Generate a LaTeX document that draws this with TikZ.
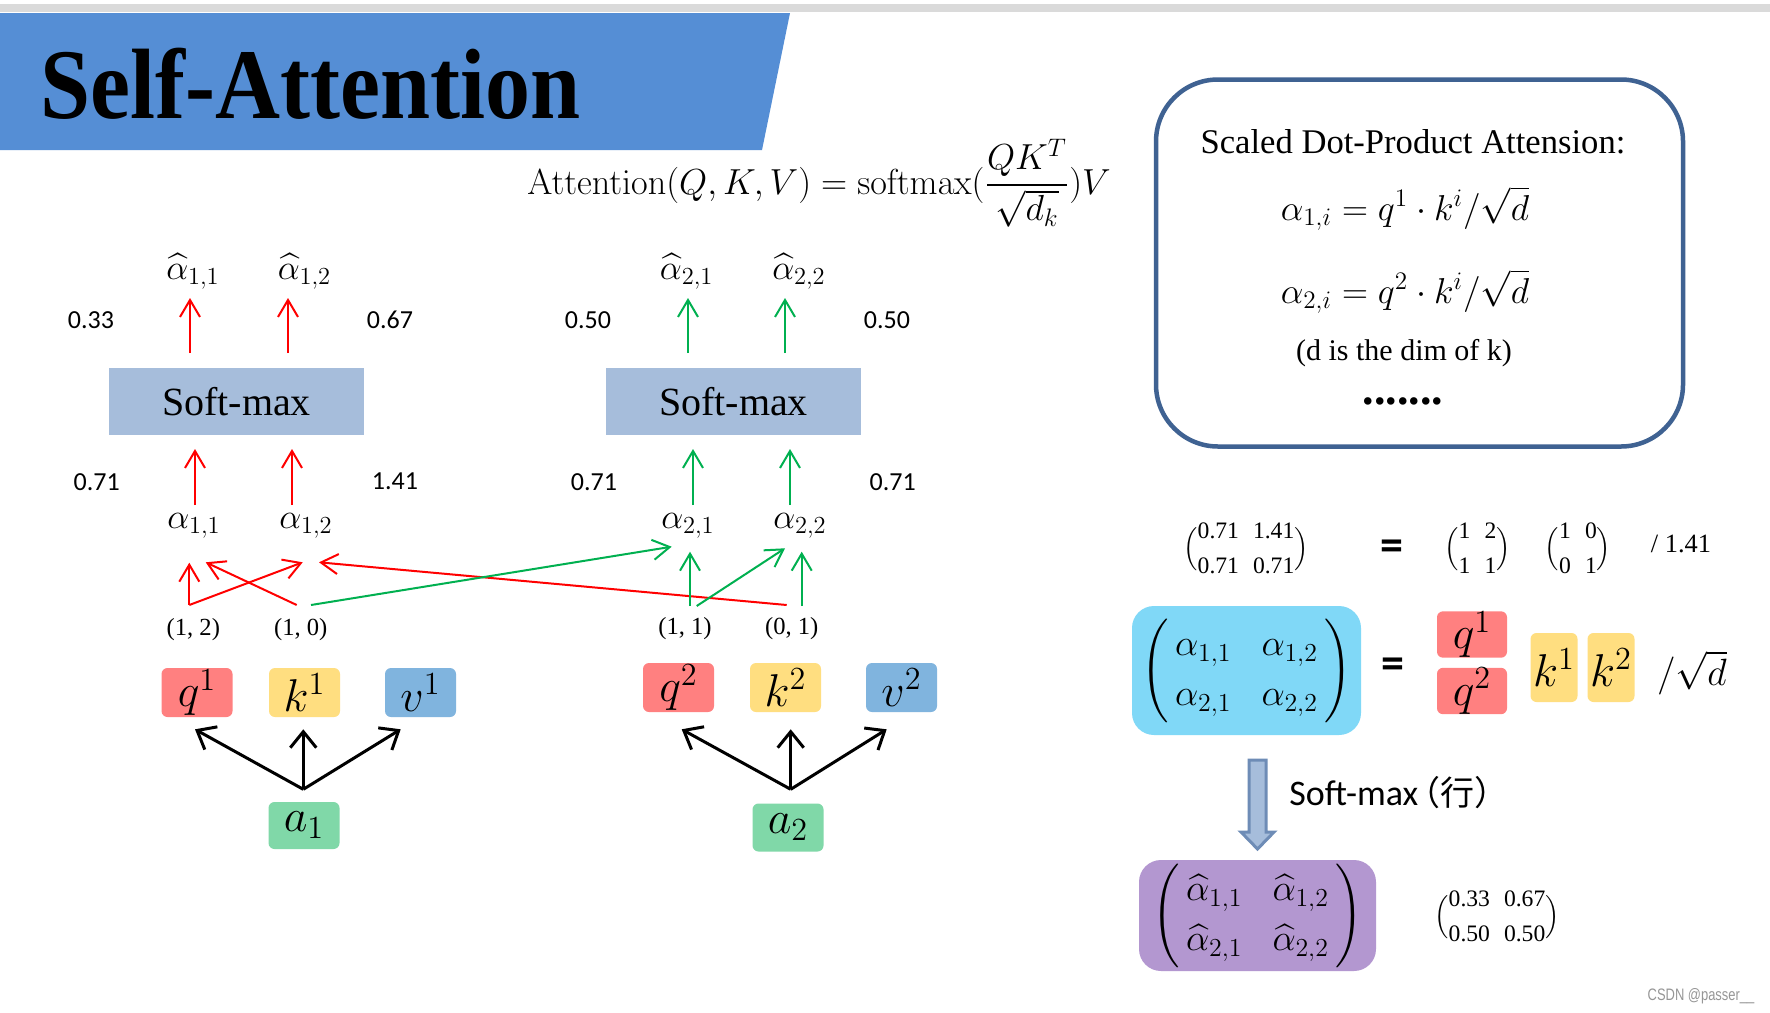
\RequirePackage{fix-cm}
\documentclass[tikz,border=0pt]{standalone}
\usepackage{amsmath}
\usepackage[no-math]{fontspec}
\setmainfont{Liberation Serif}
\newfontfamily\calibri{Carlito}
\newfontfamily\cjkfont{Noto Sans CJK SC}
\newfontfamily\arialfont{Liberation Sans}
\usetikzlibrary{arrows.meta}
\definecolor{bannerblue}{RGB}{85,142,213}
\definecolor{topgray}{RGB}{218,218,218}
\definecolor{smfill}{RGB}{166,189,219}
\definecolor{qfill}{RGB}{255,128,128}
\definecolor{kfill}{RGB}{255,222,128}
\definecolor{vfill}{RGB}{128,180,222}
\definecolor{afill}{RGB}{128,216,168}
\definecolor{arrgreen}{RGB}{0,176,80}
\definecolor{frameblue}{RGB}{63,98,146}
\definecolor{skyfill}{RGB}{128,216,247}
\definecolor{purpfill}{RGB}{179,151,208}
\definecolor{bigarrowdraw}{RGB}{110,140,182}
\definecolor{wmgray}{RGB}{150,150,150}
\begin{document}
\begin{tikzpicture}[x=0.5pt,y=-0.5pt,
  redarr/.style={draw=red, line width=1pt, -{Straight Barb[length=8.5pt,width=10pt]}},
  greenarr/.style={draw=arrgreen, line width=1pt, -{Straight Barb[length=8.5pt,width=10pt]}},
  blackarr/.style={draw=black, line width=1.5pt, -{Straight Barb[length=8pt,width=13pt]}},
  smbox/.style={fill=smfill, minimum width=127.5pt, minimum height=33.5pt, inner sep=0pt, font=\fontsize{20}{24}\selectfont},
  vecbox/.style={rounded corners=3pt, minimum width=35.5pt, minimum height=24.5pt, inner sep=0pt, font=\fontsize{23}{27}\selectfont},
  numlbl/.style={inner sep=0pt, font=\calibri\fontsize{13}{15}\selectfont},
  alab/.style={inner sep=0pt, anchor=base, font=\fontsize{17.5}{20}\selectfont},
  pairlbl/.style={inner sep=0pt, font=\fontsize{12.3}{15}\selectfont},
  nummat/.style={inner sep=0pt, font=\fontsize{11.8}{17.5}\selectfont},
  eqsign/.style={inner sep=0pt, font=\calibri\bfseries\fontsize{23}{27}\selectfont},
  bigmat/.style={inner sep=0pt, rounded corners=11pt, font=\fontsize{18.5}{25}\selectfont},
]
\useasboundingbox (0,0) rectangle (1770,1012);
\fill[white] (0,0) rectangle (1770,1012);
\fill[topgray] (0,4) rectangle (1770,12);
\fill[bannerblue] (0,13) -- (790,13) -- (762,150) -- (0,150) -- cycle;
\node[anchor=base west, inner sep=0pt] (title) at (40,118) {\scalebox{0.9}[1]{\fontsize{50}{60}\selectfont\bfseries Self-Attention}};

% formula
\node[anchor=base west, inner sep=0pt] (attn) at (527,194) {\fontsize{18.1}{21}\selectfont $\mathrm{Attention}(Q,K,V)=\mathrm{softmax}(\dfrac{QK^T}{\sqrt{d_k}})V$};

% right frame
\node[draw=frameblue, line width=2.25pt, rounded corners=31pt, minimum width=263.5pt, minimum height=183.5pt, inner sep=0pt] (sdp) at (1419.5,263) {};
\node[anchor=base, inner sep=0pt, font=\fontsize{17.3}{20}\selectfont] (sdptitle) at (1413,153) {Scaled Dot-Product Attension:};
\node[anchor=base, inner sep=0pt, font=\fontsize{18}{20}\selectfont] (eqa) at (1405,220) {$\alpha_{1,i}=q^1\cdot k^i/\sqrt{d}$};
\node[anchor=base, inner sep=0pt, font=\fontsize{18}{20}\selectfont] (eqb) at (1405,303) {$\alpha_{2,i}=q^2\cdot k^i/\sqrt{d}$};
\node[anchor=base, inner sep=0pt, font=\fontsize{15}{18}\selectfont] (note) at (1404,360) {(d is the dim of k)};
\node[anchor=base, inner sep=0pt, font=\bfseries\fontsize{23}{28}\selectfont] (dots) at (1403,404) {.......};

% softmax boxes
\node[smbox] (sm1) at (236.5,401.5) {Soft-max};
\node[smbox] (sm2) at (733.5,401.5) {Soft-max};

% alpha labels
\node[alab] (ah11) at (193,279) {$\widehat{\alpha}_{1,1}$};
\node[alab] (ah12) at (304.5,279) {$\widehat{\alpha}_{1,2}$};
\node[alab] (ah21) at (686.7,279) {$\widehat{\alpha}_{2,1}$};
\node[alab] (ah22) at (799,279) {$\widehat{\alpha}_{2,2}$};
\node[alab] (a11) at (194,528) {$\alpha_{1,1}$};
\node[alab] (a12) at (306,528) {$\alpha_{1,2}$};
\node[alab] (a21) at (688,528) {$\alpha_{2,1}$};
\node[alab] (a22) at (800,528) {$\alpha_{2,2}$};

% number labels
\node[numlbl] (n033) at (91,320) {0.33};
\node[numlbl] (n067) at (390,320) {0.67};
\node[numlbl] (n071a) at (96.7,481.7) {0.71};
\node[numlbl] (n141) at (395,481.7) {1.41};
\node[numlbl] (n050a) at (588,320) {0.50};
\node[numlbl] (n050b) at (887,320) {0.50};
\node[numlbl] (n071b) at (594,481.7) {0.71};
\node[numlbl] (n071c) at (892.7,481.7) {0.71};

% pair labels
\node[pairlbl] (p12) at (193.3,629.5) {(1, 2)};
\node[pairlbl] (p10) at (300.7,629.5) {(1, 0)};
\node[pairlbl] (p11) at (685,629) {(1, 1)};
\node[pairlbl] (p01) at (791.7,629) {(0, 1)};

% vector boxes
\node[vecbox, fill=qfill] (q1) at (197,692.5) {$q^1$};
\node[vecbox, fill=kfill] (k1) at (304.5,692.5) {$k^1$};
\node[vecbox, fill=vfill] (v1) at (420.5,692.5) {$v^1$};
\node[vecbox, fill=afill, minimum height=23.5pt] (x1) at (304,825.5) {$a_1$};
\node[vecbox, fill=qfill] (q2) at (678.5,687.5) {$q^2$};
\node[vecbox, fill=kfill] (k2) at (785.5,687.5) {$k^2$};
\node[vecbox, fill=vfill] (v2) at (901.5,687.5) {$v^2$};
\node[vecbox, fill=afill, minimum height=24pt] (x2) at (788,827.5) {$a_2$};

% arrow coordinates: softmax -> hat alpha
\coordinate (s1a) at (190,353); \coordinate (t1a) at (190,298);
\coordinate (s1b) at (288,353); \coordinate (t1b) at (288,298);
\coordinate (s2a) at (688,353); \coordinate (t2a) at (688,298);
\coordinate (s2b) at (785,353); \coordinate (t2b) at (785,298);
\draw[redarr] (s1a) -- (t1a);
\draw[redarr] (s1b) -- (t1b);
\draw[greenarr] (s2a) -- (t2a);
\draw[greenarr] (s2b) -- (t2b);
% alpha -> softmax
\coordinate (u1a) at (195,505); \coordinate (w1a) at (195,449);
\coordinate (u1b) at (292,505); \coordinate (w1b) at (292,449);
\coordinate (u2a) at (693,505); \coordinate (w2a) at (693,449);
\coordinate (u2b) at (790,505); \coordinate (w2b) at (790,449);
\draw[redarr] (u1a) -- (w1a);
\draw[redarr] (u1b) -- (w1b);
\draw[greenarr] (u2a) -- (w2a);
\draw[greenarr] (u2b) -- (w2b);
% dot products
\coordinate (c12) at (189.3,605);
\coordinate (c10) at (296.7,605);
\coordinate (c10g) at (311,605);
\coordinate (c11a) at (690,606);
\coordinate (c11b) at (696.7,606);
\coordinate (c01r) at (786.7,605);
\coordinate (c01g) at (801.7,606);
\coordinate (e11a) at (189.3,562.7);
\coordinate (e11b) at (205.7,562.3);
\coordinate (e12a) at (302.7,562.3);
\coordinate (e12b) at (319,562.3);
\coordinate (e21a) at (671.7,546.7);
\coordinate (e21b) at (690,551.7);
\coordinate (e22a) at (785,548.3);
\coordinate (e22b) at (801.7,551.7);
\draw[redarr] (c12) -- (e11a);
\draw[redarr] (c12) -- (e12a);
\draw[redarr] (c10) -- (e11b);
\draw[redarr] (c01r) -- (e12b);
\draw[greenarr] (c10g) -- (e21a);
\draw[greenarr] (c11a) -- (e21b);
\draw[greenarr] (c11b) -- (e22a);
\draw[greenarr] (c01g) -- (e22b);
% a -> q,k,v
\coordinate (o1) at (303.3,789.3);
\coordinate (tq1) at (195,729.3);
\coordinate (tk1) at (303.3,729.3);
\coordinate (tv1) at (400.7,729.3);
\coordinate (o2) at (790.7,789.3);
\coordinate (tq2) at (681.7,729.3);
\coordinate (tk2) at (790.7,729.3);
\coordinate (tv2) at (886.7,729.3);
\draw[blackarr] (o1) -- (tq1);
\draw[blackarr] (o1) -- (tk1);
\draw[blackarr] (o1) -- (tv1);
\draw[blackarr] (o2) -- (tq2);
\draw[blackarr] (o2) -- (tk2);
\draw[blackarr] (o2) -- (tv2);

% right lower part
\node[nummat] (m1) at (1246,549) {$\Bigl(\begin{array}{@{}c@{\hspace{7pt}}c@{}}\textrm{0.71}&\textrm{1.41}\\\textrm{0.71}&\textrm{0.71}\end{array}\Bigr)$};
\node[eqsign] (eq1) at (1392,550) {=};
\node[nummat] (m2) at (1477.5,549) {$\Bigl(\begin{array}{@{}c@{\hspace{7pt}}c@{}}\textrm{1}&\textrm{2}\\\textrm{1}&\textrm{1}\end{array}\Bigr)$};
\node[nummat] (m3) at (1578,549) {$\Bigl(\begin{array}{@{}c@{\hspace{7pt}}c@{}}\textrm{1}&\textrm{0}\\\textrm{0}&\textrm{1}\end{array}\Bigr)$};
\node[inner sep=0pt, font=\fontsize{13.2}{15}\selectfont] (div) at (1681,544) {/ 1.41};

\node[bigmat, fill=skyfill, minimum width=114.5pt, minimum height=64.5pt] (amat) at (1246.5,670.5) {$\left(\,\begin{array}{@{}c@{\hspace{15pt}}c@{}}\alpha_{1,1}&\alpha_{1,2}\\\alpha_{2,1}&\alpha_{2,2}\end{array}\,\right)$};
\node[eqsign] (eq2) at (1393,668) {=};
\node[vecbox, fill=qfill, minimum width=35pt, minimum height=22.5pt] (rq1) at (1472,634.5) {$q^1$};
\node[vecbox, fill=qfill, minimum width=35pt, minimum height=23pt] (rq2) at (1472,691) {$q^2$};
\node[vecbox, fill=kfill, minimum width=23.5pt, minimum height=34.5pt] (rk1) at (1554,667.5) {$k^1$};
\node[vecbox, fill=kfill, minimum width=23.5pt, minimum height=34.5pt] (rk2) at (1611,667.5) {$k^2$};
\node[inner sep=0pt, font=\fontsize{19}{22}\selectfont] (sqd) at (1692,673) {$/\sqrt{d}$};

% hollow arrow
\filldraw[fill=smfill, draw=bigarrowdraw, line width=1.5pt, line join=miter] (1249,760) -- (1266,760) -- (1266,832) -- (1274,832) -- (1257.5,849) -- (1241,832) -- (1249,832) -- cycle;
\node[anchor=base west, inner sep=0pt, font=\calibri\fontsize{18}{22}\selectfont] (smlbl) at (1289,805) {Soft-max\hspace{-6pt}{\cjkfont\fontsize{17}{19}\selectfont （行）}};

\node[bigmat, fill=purpfill, minimum width=118.5pt, minimum height=55.5pt] (hmat) at (1257.5,915.5) {$\left(\,\begin{array}{@{}c@{\hspace{15pt}}c@{}}\widehat{\alpha}_{1,1}&\widehat{\alpha}_{1,2}\\\widehat{\alpha}_{2,1}&\widehat{\alpha}_{2,2}\end{array}\,\right)$};
\node[nummat] (m4) at (1497,917) {$\Bigl(\begin{array}{@{}c@{\hspace{7pt}}c@{}}\textrm{0.33}&\textrm{0.67}\\\textrm{0.50}&\textrm{0.50}\end{array}\Bigr)$};

\node[inner sep=0pt, text=wmgray] (wm) at (1701,996) {\scalebox{0.78}[1]{\arialfont\fontsize{8.3}{10}\selectfont CSDN @passer\_\_}};
\end{tikzpicture}
\end{document}
